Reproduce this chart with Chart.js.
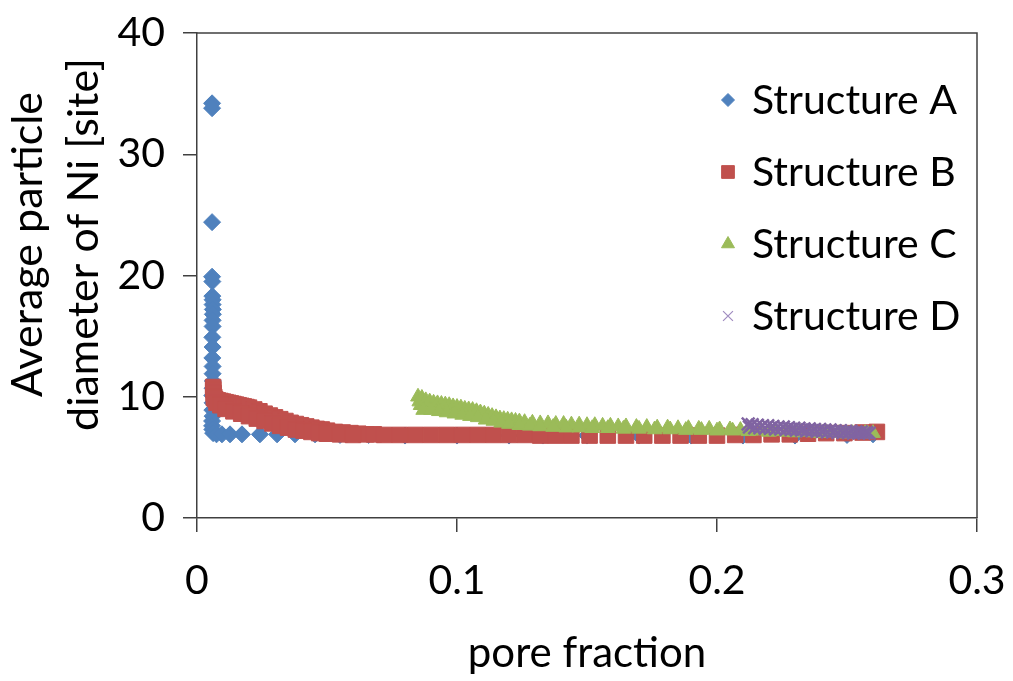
<!DOCTYPE html>
<html>
<head>
<meta charset="utf-8">
<script src="https://cdn.jsdelivr.net/npm/chart.js@4.4.1/dist/chart.umd.min.js"></script>
<style>
  body { margin: 0; background: #fff; }
  #wrap { width: 1013px; height: 681px; }
</style>
</head>
<body>
<div id="wrap"><canvas id="chart1"></canvas></div>
<script>
// values

var seriesNames = ['Structure A', 'Structure B', 'Structure C', 'Structure D'];
var xTicks = [0, 0.1, 0.2, 0.3];
var yTicks = [0, 10, 20, 30, 40];
var xTitle = 'pore fraction';
var yTitle = ['Average particle', 'diameter of Ni [site]'];

var poreA = [0.0058, 0.0058, 0.0058, 0.0058, 0.0059, 0.0059, 0.006, 0.006, 0.0061, 0.0061,
             0.006, 0.006, 0.0059, 0.006, 0.0059, 0.006, 0.006, 0.0061, 0.006, 0.0059,
             0.006, 0.0059, 0.006, 0.0058, 0.0058, 0.0059, 0.0062, 0.0075, 0.0096, 0.0127,
             0.0173, 0.0242, 0.0308, 0.0377, 0.0454, 0.055, 0.066, 0.08, 0.1, 0.12,
             0.133, 0.15, 0.17, 0.19, 0.21, 0.23, 0.25, 0.26];
var diamA = [34.2, 33.8, 24.4, 19.9, 19.5, 18.3, 18.0, 17.6, 17.2, 16.8,
             16.3, 15.8, 14.9, 14.1, 13.2, 12.5, 11.9, 11.3, 10.7, 10.1,
             9.5, 8.9, 8.4, 8.0, 7.6, 7.3, 7.0, 6.9, 6.9, 6.9,
             6.9, 6.9, 6.9, 6.9, 6.9, 6.85, 6.85, 6.8, 6.8, 6.8,
             6.8, 6.8, 6.8, 6.8, 6.8, 6.8, 6.85, 6.9];

// upper run of structure B
var poreB = [0.0062, 0.0063, 0.0064, 0.0066, 0.007, 0.008, 0.009, 0.010, 0.011, 0.012,
             0.013, 0.014, 0.015, 0.016, 0.017, 0.018, 0.019, 0.020, 0.022, 0.024,
             0.026, 0.028, 0.030, 0.032, 0.034, 0.036, 0.038, 0.040, 0.042, 0.044,
             0.046, 0.048, 0.050, 0.053, 0.056, 0.059, 0.062, 0.065, 0.068, 0.072,
             0.078, 0.084, 0.090, 0.096, 0.102, 0.108, 0.114, 0.120, 0.126, 0.132,
             0.138, 0.144, 0.151, 0.158, 0.165, 0.172, 0.179, 0.186, 0.193, 0.200,
             0.207, 0.214, 0.221, 0.228, 0.235, 0.242, 0.249, 0.256, 0.2615];
var diamB = [10.8, 10.6, 10.3, 10.0, 9.8, 9.7, 9.65, 9.6, 9.55, 9.5,
             9.45, 9.4, 9.35, 9.3, 9.25, 9.2, 9.15, 9.1, 8.95, 8.8,
             8.6, 8.45, 8.3, 8.15, 8.0, 7.85, 7.75, 7.65, 7.55, 7.45,
             7.35, 7.3, 7.2, 7.1, 7.05, 7.0, 6.95, 6.9, 6.9, 6.85,
             6.85, 6.85, 6.85, 6.85, 6.85, 6.85, 6.85, 6.85, 6.85, 6.8,
             6.8, 6.8, 6.8, 6.8, 6.8, 6.8, 6.8, 6.8, 6.8, 6.8,
             6.85, 6.85, 6.9, 6.9, 6.95, 7.0, 7.0, 7.05, 7.1];
// lower run of structure B
var poreB2 = [0.0065, 0.0075, 0.009, 0.011, 0.014, 0.017, 0.020, 0.023, 0.026, 0.029,
              0.032, 0.035, 0.038, 0.041, 0.044, 0.047, 0.050, 0.055, 0.060];
var diamB2 = [9.9, 9.5, 9.3, 9.0, 8.8, 8.6, 8.4, 8.2, 8.0, 7.8,
              7.6, 7.45, 7.3, 7.2, 7.1, 7.0, 6.95, 6.9, 6.85];

// upper run of structure C
var poreC = [0.085, 0.0855, 0.086, 0.0865, 0.088, 0.0895, 0.091, 0.0925, 0.094, 0.0955,
             0.097, 0.0985, 0.100, 0.1015, 0.103, 0.1045, 0.106, 0.1075, 0.109, 0.1105,
             0.112, 0.1135, 0.115, 0.1165, 0.118, 0.1195, 0.121, 0.1225, 0.124, 0.126,
             0.129, 0.132, 0.135, 0.138, 0.141, 0.144, 0.147, 0.150, 0.153, 0.156,
             0.159, 0.162, 0.165, 0.169, 0.173, 0.177, 0.181, 0.185, 0.189, 0.193,
             0.197, 0.201, 0.205, 0.209, 0.213, 0.217, 0.222, 0.227, 0.232, 0.237,
             0.242, 0.247, 0.252, 0.257, 0.260];
var diamC = [10.0, 9.6, 9.3, 9.9, 9.7, 9.6, 9.5, 9.45, 9.4, 9.35,
             9.3, 9.2, 9.15, 9.1, 9.0, 8.95, 8.9, 8.8, 8.7, 8.6,
             8.5, 8.4, 8.3, 8.2, 8.15, 8.1, 8.05, 8.0, 7.95, 7.9,
             7.85, 7.8, 7.8, 7.75, 7.75, 7.7, 7.7, 7.65, 7.65, 7.6,
             7.6, 7.55, 7.55, 7.5, 7.5, 7.45, 7.45, 7.4, 7.4, 7.35,
             7.35, 7.3, 7.3, 7.25, 7.2, 7.2, 7.15, 7.1, 7.1, 7.05,
             7.05, 7.0, 7.0, 7.0, 7.0];
// lower run of structure C
var poreC2 = [0.087, 0.090, 0.093, 0.096, 0.099, 0.102, 0.105, 0.108, 0.111, 0.114,
              0.117, 0.120, 0.124, 0.128, 0.132, 0.137, 0.142, 0.147, 0.152, 0.158,
              0.164, 0.170, 0.176, 0.182, 0.188, 0.194, 0.200, 0.206, 0.212, 0.220,
              0.230, 0.240, 0.250, 0.258];
var diamC2 = [8.9, 8.9, 8.8, 8.7, 8.6, 8.5, 8.4, 8.3, 8.1, 8.0,
              7.85, 7.75, 7.65, 7.6, 7.55, 7.5, 7.45, 7.45, 7.4, 7.4,
              7.35, 7.35, 7.3, 7.3, 7.25, 7.25, 7.2, 7.2, 7.15, 7.1,
              7.05, 7.0, 6.95, 6.95];

var poreD = [0.212, 0.2125, 0.2135, 0.2145, 0.2155, 0.2165, 0.2175, 0.2185, 0.2195, 0.2205,
             0.2215, 0.2225, 0.2235, 0.2245, 0.2255, 0.2265, 0.2275, 0.2285, 0.2295, 0.2305,
             0.2315, 0.2325, 0.2335, 0.2345, 0.2355, 0.2365, 0.2375, 0.2385, 0.2395, 0.2405,
             0.2415, 0.2425, 0.2435, 0.2445, 0.2455, 0.2465, 0.2475, 0.2485, 0.2495, 0.2505,
             0.2515, 0.2525, 0.2535, 0.2545, 0.2555, 0.2565, 0.2575, 0.2585];
var diamD = [7.75, 7.5, 7.7, 7.45, 7.65, 7.45, 7.6, 7.4, 7.6, 7.4,
             7.55, 7.35, 7.5, 7.35, 7.5, 7.3, 7.45, 7.3, 7.4, 7.25,
             7.4, 7.25, 7.35, 7.2, 7.35, 7.2, 7.3, 7.15, 7.3, 7.15,
             7.25, 7.1, 7.25, 7.1, 7.2, 7.05, 7.2, 7.05, 7.15, 7.05,
             7.15, 7.0, 7.1, 7.0, 7.1, 7.0, 7.05, 7.0];

var colors = ['#4F81BD', '#C0504D', '#9BBB59', '#8064A2'];
var styles = ['rectRot', 'rect', 'triangle', 'crossRot'];

function toPoints(xs, ys) {
  return xs.map(function (x, i) { return { x: x, y: ys[i] }; });
}

Chart.defaults.font.family = 'Lato';
Chart.defaults.color = '#000';

// legend drawn inside the plot, top right, one entry per row
var insideLegend = {
  id: 'insideLegend',
  afterDraw: function (chart) {
    var ctx = chart.ctx, area = chart.chartArea;
    var sizes = [6.5, 9, 7.5, 7];
    ctx.save();
    ctx.font = '41px Lato';
    ctx.textBaseline = 'middle';
    chart.data.datasets.forEach(function (ds, i) {
      var x = area.right - 249;
      var y = area.top + 67 + i * 72;
      ctx.fillStyle = ds.backgroundColor;
      ctx.strokeStyle = i === 3 ? '#A08CC0' : ds.borderColor;
      ctx.lineWidth = i === 3 ? 1.2 : 1;
      Chart.helpers.drawPoint(ctx, { pointStyle: ds.pointStyle, radius: sizes[i], borderWidth: 1, rotation: 0 }, x, y);
      ctx.fillStyle = '#000';
      ctx.fillText(ds.label, x + 24, y + 1);
    });
    ctx.restore();
  }
};

// top and right edges of the plot box, and the two-line y title
var plotFrame = {
  id: 'plotFrame',
  afterDraw: function (chart) {
    var ctx = chart.ctx, a = chart.chartArea;
    ctx.save();
    ctx.strokeStyle = '#404040';
    ctx.lineWidth = 1.5;
    ctx.beginPath();
    ctx.moveTo(a.left, a.top);
    ctx.lineTo(a.right, a.top);
    ctx.lineTo(a.right, a.bottom);
    ctx.stroke();

    var cy = (a.top + a.bottom) / 2 - 31;
    ctx.fillStyle = '#000';
    ctx.font = '43px Lato';
    ctx.textAlign = 'center';
    ctx.textBaseline = 'alphabetic';
    yTitle.forEach(function (line, i) {
      ctx.save();
      ctx.translate(42 + i * 56, cy);
      ctx.rotate(-Math.PI / 2);
      ctx.fillText(line, 0, 0);
      ctx.restore();
    });
    ctx.restore();
  }
};

var datasets = [
  { label: seriesNames[0], data: toPoints(poreA, diamA), order: 4, pointRadius: 8.5 },
  { label: seriesNames[1], data: toPoints(poreB, diamB).concat(toPoints(poreB2, diamB2)), order: 3, pointRadius: 11 },
  { label: seriesNames[2], data: toPoints(poreC, diamC).concat(toPoints(poreC2, diamC2)), order: 2, pointRadius: 8.5 },
  { label: seriesNames[3], data: toPoints(poreD, diamD), order: 1, pointRadius: 9, borderWidth: 2.5 }
].map(function (ds, i) {
  ds.backgroundColor = colors[i];
  ds.borderColor = colors[i];
  ds.pointStyle = styles[i];
  if (!ds.borderWidth) ds.borderWidth = 1;
  return ds;
});

var graph = document.getElementById('chart1');

var myChart = new Chart(graph, {
  type: 'scatter',
  data: { datasets: datasets },
  options: {
    responsive: true,
    maintainAspectRatio: false,
    animation: false,
    layout: { padding: { left: 0, right: 36, top: 33, bottom: 0 } },
    plugins: {
      legend: { display: false },
      tooltip: { enabled: false }
    },
    scales: {
      x: {
        min: xTicks[0],
        max: xTicks[xTicks.length - 1],
        afterBuildTicks: function (scale) {
          scale.ticks = xTicks.map(function (v) { return { value: v }; });
        },
        afterFit: function (scale) {
          scale.height = 163;
          scale.paddingLeft = 0;
          scale.paddingRight = 0;
        },
        border: { display: true, color: '#404040', width: 1.5 },
        grid: { drawOnChartArea: false, drawTicks: true, tickLength: 14, color: '#404040', lineWidth: 1.5 },
        ticks: {
          padding: 24,
          font: { size: 41 },
          callback: function (v) { return String(+v.toFixed(1)); }
        },
        title: {
          display: true,
          text: xTitle,
          font: { size: 42 },
          padding: { top: 0, bottom: 2 }
        }
      },
      y: {
        min: yTicks[0],
        max: yTicks[yTicks.length - 1],
        afterBuildTicks: function (scale) {
          scale.ticks = yTicks.map(function (v) { return { value: v }; });
        },
        afterFit: function (scale) {
          scale.width = 197;
          scale.paddingTop = 0;
          scale.paddingBottom = 0;
        },
        border: { display: true, color: '#404040', width: 1.5 },
        grid: { drawOnChartArea: false, drawTicks: true, tickLength: 14, color: '#404040', lineWidth: 1.5 },
        ticks: {
          padding: 18,
          font: { size: 41 }
        },
        title: { display: false }
      }
    }
  },
  plugins: [insideLegend, plotFrame]
});
</script>
</body>
</html>
